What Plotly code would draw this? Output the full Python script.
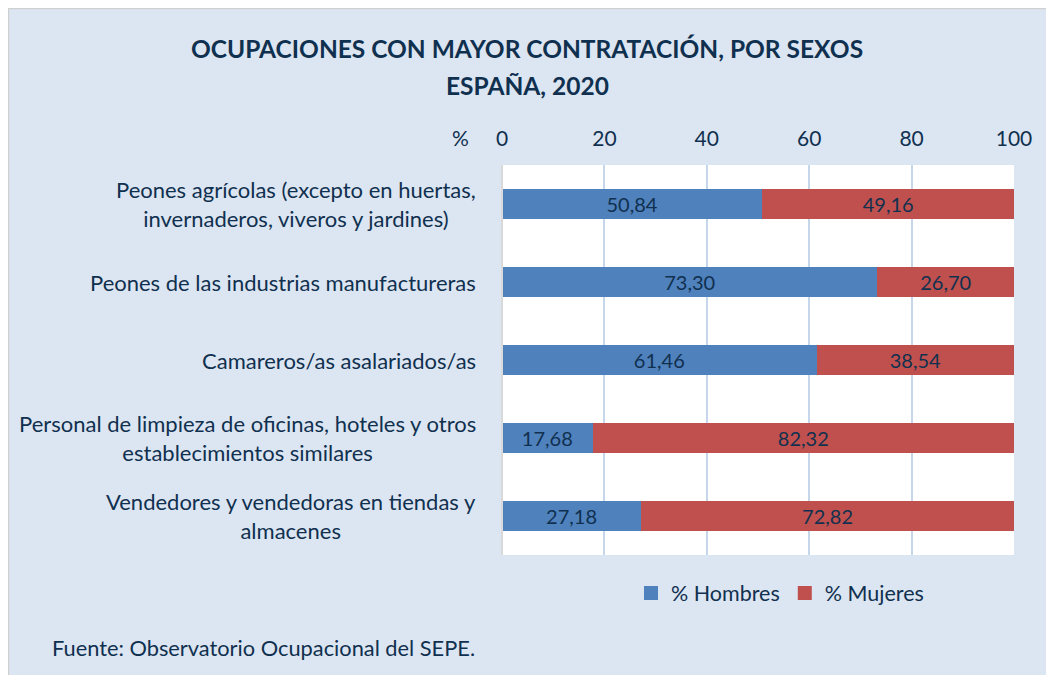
import plotly.graph_objects as go

categorias = [
    "Peones agrícolas (excepto en huertas,<br>invernaderos, viveros y jardines)",
    "Peones de las industrias manufactureras",
    "Camareros/as asalariados/as",
    "Personal de limpieza de oficinas, hoteles y otros<br>establecimientos similares",
    "Vendedores y vendedoras en tiendas y<br>almacenes",
]
hombres = [50.84, 73.30, 61.46, 17.68, 27.18]
mujeres = [49.16, 26.70, 38.54, 82.32, 72.82]
ticks_x = [0, 20, 40, 60, 80, 100]

FONT = "Lato"
TXT = "#10304f"
BG = "#dce6f2"
C_H = "#4f81bd"
C_M = "#c0504d"

OFF = 8  # page body margin
W, H = 1054 - OFF, 675 - OFF
L, R, T, B = 502 - OFF, 40, 165 - OFF, 120
PW, PH = W - L - R, H - T - B


def px(x):
    # x in page pixels -> paper fraction
    return (x - OFF - L) / PW


def py(y):
    return (H - B - (y - OFF)) / PH


fig = go.Figure()
for nombre, vals, col in [("% Hombres", hombres, C_H), ("% Mujeres", mujeres, C_M)]:
    fig.add_trace(go.Bar(
        y=categorias, x=vals, orientation="h", name=nombre, showlegend=False,
        marker=dict(color=col, line=dict(width=0)),
        texttemplate="%{x:.2f}", textposition="inside", insidetextanchor="middle",
        textfont=dict(family=FONT, size=20, color=TXT),
    ))
for nombre, col in [("% Hombres", C_H), ("% Mujeres", C_M)]:
    fig.add_trace(go.Scatter(
        x=[None], y=[None], mode="markers", name=nombre,
        marker=dict(symbol="square", size=14, color=col),
    ))

annotations = []
for c in categorias:
    annotations.append(dict(
        x=0, xref="paper", xshift=-24, xanchor="right",
        y=c, yref="y", yanchor="middle",
        text=c, showarrow=False, align="center",
        font=dict(family=FONT, size=22, color=TXT),
    ))
annotations += [
    dict(x=px(527), xref="paper", y=py(49), yref="paper", xanchor="center", yanchor="middle",
         text="<b>OCUPACIONES CON MAYOR CONTRATACIÓN, POR SEXOS</b>", showarrow=False,
         font=dict(family=FONT, size=24.5, color=TXT)),
    dict(x=px(527), xref="paper", y=py(85), yref="paper", xanchor="center", yanchor="middle",
         text="<b>ESPAÑA, 2020</b>", showarrow=False,
         font=dict(family=FONT, size=24.5, color=TXT)),
    dict(x=px(460), xref="paper", y=py(137), yref="paper", xanchor="center", yanchor="middle",
         text="%", showarrow=False, font=dict(family=FONT, size=21, color=TXT)),
    dict(x=px(50), xref="paper", y=py(647), yref="paper", xanchor="left", yanchor="middle",
         text="Fuente: Observatorio Ocupacional del SEPE.", showarrow=False,
         font=dict(family=FONT, size=21.8, color=TXT)),
]

shapes = [
    dict(type="line", xref="paper", yref="paper", x0=px(8), x1=px(1060), y0=py(8.5), y1=py(8.5),
         line=dict(color="#d0d0d0", width=1.5), layer="above"),
    dict(type="line", xref="paper", yref="paper", x0=px(8.5), x1=px(8.5), y0=py(8), y1=py(680),
         line=dict(color="#d0d0d0", width=1.5), layer="above"),
    dict(type="line", xref="paper", yref="paper", x0=0, x1=0, y0=0, y1=1,
         line=dict(color="#d9d9d9", width=2), layer="above"),
]

fig.update_layout(
    width=W, height=H,
    margin=dict(l=L, r=R, t=T, b=B),
    barmode="stack", bargap=0.615,
    separators=",.",
    paper_bgcolor=BG, plot_bgcolor="white",
    font=dict(family=FONT, size=21, color=TXT),
    showlegend=True,
    legend=dict(orientation="h", x=px(780), xanchor="center", y=py(593), yanchor="middle",
                font=dict(family=FONT, size=21.5, color=TXT), traceorder="normal",
                itemwidth=30, itemsizing="trace", bgcolor="rgba(0,0,0,0)"),
    xaxis=dict(side="top", range=[0, 100], tickvals=ticks_x, showgrid=True,
               gridcolor="#c6d7ec", gridwidth=1.5, zeroline=False, showline=False,
               ticks="", ticklabelstandoff=14,
               tickfont=dict(family=FONT, size=21, color=TXT), fixedrange=True),
    yaxis=dict(autorange="reversed", showticklabels=False, showgrid=False, zeroline=False,
               showline=False, ticks=""),
    annotations=annotations,
    shapes=shapes,
)

fig.write_html("out.html")
